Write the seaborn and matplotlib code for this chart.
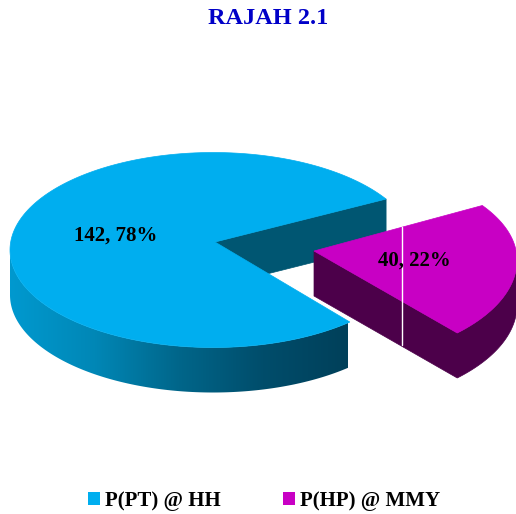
import numpy as np
import matplotlib
matplotlib.use("Agg")
import matplotlib.pyplot as plt
from matplotlib.patches import Patch, Polygon
from matplotlib.colors import LinearSegmentedColormap
import seaborn as sns

# data #
categories = ["P(PT) @ HH", "P(HP) @ MMY"]
values = [142, 40]
percent_labels = ["78%", "22%"]

# colours #
top_colors = sns.color_palette(["#00AEEF", "#C800C4"])
blue_cut = "#005672"
purple_side = "#4C004A"
blue_side = LinearSegmentedColormap.from_list(
    "blue_side", ["#0099CF", "#0087B6", "#00668A", "#004D6B", "#00405A"])

# shape of the fake 3d pie, in pixels #
W, H = 516, 514
rx, ry = 203, 97.5
ry_front_purple = 103
depth = 45
start_angle = 31.5
purple_rotate = 2.5
centers = [(213, 250), (314, 260)]
apex_shift = [(2, -8), (0, -9)]

sns.set_theme(style="white")
plt.rcParams["font.family"] = ["Liberation Serif", "DejaVu Serif"]

fig = plt.figure(figsize=(W / 100, H / 100), dpi=100, facecolor="white")
ax = fig.add_axes([0, 0, 1, 1])


def arc(center, a0, a1, ry_down=ry):
    t = np.radians(np.linspace(a0, a1, 200))
    s = np.sin(t)
    return np.column_stack([center[0] + rx * np.cos(t),
                            center[1] - np.where(s > 0, ry, ry_down) * s])


def wall(points):
    return np.vstack([points, points[::-1] + [0, depth]])


# angles come from the values #
sweeps = np.array(values) / sum(values) * 360
a0_blue = start_angle
a1_blue = a0_blue + sweeps[0]
a0_purple = a1_blue + purple_rotate
a1_purple = a0_purple + sweeps[1]

apex_blue = np.array(centers[0]) + apex_shift[0]
apex_purple = np.array(centers[1]) + apex_shift[1]

# blue slice #
p_start = arc(centers[0], a0_blue, a0_blue)[:1]
cut = np.vstack([apex_blue, p_start])
ax.add_patch(Polygon(wall(cut), closed=True, fc=blue_cut, ec=blue_cut, lw=0.5))

side = Polygon(wall(arc(centers[0], 180, a1_blue)), closed=True,
               transform=ax.transData, fc="none", ec="none")
ax.add_patch(side)
grad = ax.imshow(np.linspace(0, 1, 256)[None, :], cmap=blue_side, aspect="auto",
                 extent=[centers[0][0] - rx, 348, H, 0])
grad.set_clip_path(side)

ax.add_patch(Polygon(np.vstack([apex_blue, arc(centers[0], a0_blue, a1_blue)]),
                     closed=True, fc=top_colors[0], ec=top_colors[0], lw=0.5))

# purple slice, left wall and outer wall as one shape #
purple_arc = arc(centers[1], a0_purple, 360, ry_front_purple)
ax.add_patch(Polygon(wall(np.vstack([apex_purple, purple_arc])), closed=True,
                     fc=purple_side, ec=purple_side, lw=0.5))
ax.add_patch(Polygon(np.vstack([apex_purple, arc(centers[1], a0_purple, a1_purple, ry_front_purple)]),
                     closed=True, fc=top_colors[1], ec=top_colors[1], lw=0.5))

# thin white seam through the purple slice #
ax.plot([401.5, 401.5], [227, 345], color="white", lw=1)

# labels #
label_pos = [(116, 236), (414, 261)]
for v, pct, pos in zip(values, percent_labels, label_pos):
    ax.text(pos[0], pos[1], f"{v}, {pct}", ha="center", va="center",
            fontsize=15, fontweight="bold", color="black")

ax.text(268, 18, "RAJAH 2.1", ha="center", va="center", fontsize=17.5,
        fontweight="bold", color="#0000C8")

handles = [Patch(fc=c, ec="none") for c in top_colors]
ax.legend(handles, categories, loc="center", bbox_to_anchor=(264 / W, 1 - 501 / H),
          ncol=2, frameon=False, handlelength=0.58, handleheight=0.58,
          handletextpad=0.24, columnspacing=3.0,
          prop={"size": 15, "weight": "bold"}, labelcolor="black")

ax.set_xlim(0, W)
ax.set_ylim(H, 0)
ax.axis("off")

fig.savefig("out.png", dpi=100, facecolor="white")
